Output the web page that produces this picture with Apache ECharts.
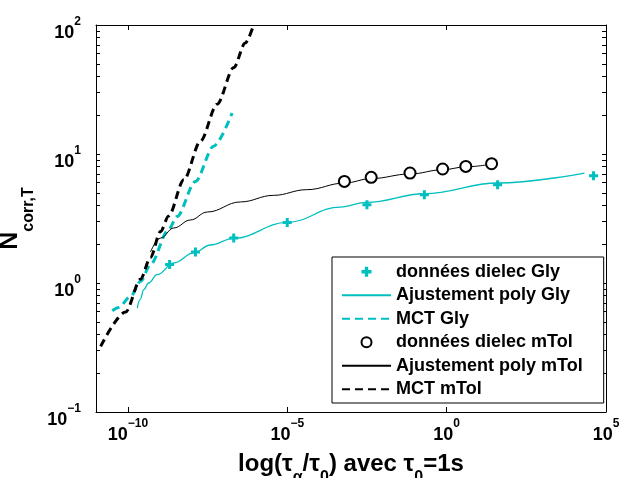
<!DOCTYPE html>
<html>
<head>
<meta charset="utf-8">
<script src="https://cdn.jsdelivr.net/npm/echarts@6/dist/echarts.min.js"></script>
<style>
  html, body { margin: 0; padding: 0; background: #fff; }
  #chart { width: 621px; height: 478px; }
</style>
</head>
<body>
<div id="chart"></div>
<script>
// ---------- data ----------
const xTickValues = [1e-10, 1e-5, 1, 1e5];
const yLabelValues = [0.1, 1, 10, 100];
const yMinorMultipliers = [1, 2, 3, 4, 5, 6, 7, 8, 9];

const glyDataX = [2.04e-9, 1.32e-8, 2.09e-7, 1.0e-5, 3.16e-3, 0.2, 39.8, 4.07e4];
const glyDataY = [1.39, 1.74, 2.23, 2.95, 4.05, 4.84, 5.78, 6.79];

const glyFitX = [1.97e-10, 2.41e-10, 3.17e-10, 4.45e-10, 8.3e-10, 2.75e-9, 1.16e-8, 3.88e-8, 2.08e-7, 9.8e-6, 4.6e-4, 3.1e-3, 0.2, 40, 2.1e4];
const glyFitY = [0.64, 0.743, 0.887, 1.0, 1.16, 1.43, 1.71, 1.97, 2.22, 2.95, 3.88, 4.22, 4.92, 5.96, 7.12];

const glyMctX = [3.25e-11, 5.1e-11, 1.22e-10, 2.5e-10, 5.1e-10, 1.88e-9, 3.5e-9, 1.32e-8, 4.9e-8, 1.86e-7];
const glyMctY = [0.61, 0.647, 0.787, 1.03, 1.39, 2.59, 3.28, 6.13, 11.5, 20.8];

const mtolDataX = [6.2e-4, 4.3e-3, 0.071, 0.75, 4.0, 25.7];
const mtolDataY = [6.13, 6.59, 7.12, 7.65, 8.01, 8.41];

const mtolFitX = [5.1e-10, 1.06e-9, 2.75e-9, 9.2e-9, 3.1e-8, 3.4e-7, 3.7e-6, 4.1e-5, 6.2e-4, 4.3e-3, 0.071, 0.75, 4.0, 25.7];
const mtolFitY = [1.74, 2.23, 2.67, 3.08, 3.55, 4.25, 4.78, 5.29, 5.95, 6.45, 7.0, 7.55, 7.95, 8.35];

const mtolMctX = [1.4e-11, 8.5e-11, 2.5e-10, 5.1e-10, 1.06e-9, 1.9e-9, 5.7e-9, 1.9e-8, 6.3e-8, 2.1e-7, 4.8e-7, 8.8e-7];
const mtolMctY = [0.323, 0.596, 1.07, 1.58, 2.51, 3.31, 6.31, 12.6, 24.3, 46.8, 72.4, 100];

const seriesNames = ['données dielec Gly', 'Ajustement poly Gly', 'MCT Gly',
                     'données dielec mTol', 'Ajustement poly mTol', 'MCT mTol'];

// ---------- helpers ----------
const zip = (xs, ys) => xs.map((x, i) => [x, ys[i]]);
const yTickValues = [];
yLabelValues.slice(0, 3).forEach(d => yMinorMultipliers.forEach(m => yTickValues.push(+(d * m).toPrecision(6))));
yTickValues.push(yLabelValues[3]);

const CYAN = '#00BFBF';
const FONT = 'Liberation Sans, Arial, sans-serif';
const plusPath = 'path://M3,0H6V3H9V6H6V9H3V6H0V3H3Z';

function powLabel(v) {
  const e = Math.round(Math.log10(v));
  const s = e < 0 ? '\u2212' + (-e) : String(e);
  return '{b|10}{s|' + s + '}';
}
const labelRich = {
  b: { fontSize: 18, fontWeight: 'bold', fontFamily: FONT, color: '#000', lineHeight: 18, padding: [8, 0, 3, 0], verticalAlign: 'top' },
  s: { fontSize: 12, fontWeight: 'bold', fontFamily: FONT, color: '#000', lineHeight: 12, verticalAlign: 'top' }
};

const chart = echarts.init(document.getElementById('chart'), null, { renderer: 'canvas' });

const axisLineStyle = { show: true, onZero: false, lineStyle: { color: '#000', width: 1 } };
const tickStyle = { color: '#000', width: 1 };

const option = {
  animation: false,
  backgroundColor: '#fff',
  grid: { left: 96, right: 15, top: 25, bottom: 66, containLabel: false, outerBoundsMode: 'none' },
  legend: {
    orient: 'vertical',
    left: 332, top: 257,
    padding: [3, 21, 2, 9],
    itemWidth: 49, itemHeight: 10, itemGap: 0,
    backgroundColor: '#fff', borderColor: '#000', borderWidth: 1,
    selectedMode: false,
    data: [
      { name: seriesNames[0] },
      { name: seriesNames[1], itemStyle: { opacity: 0 } },
      { name: seriesNames[2], itemStyle: { opacity: 0 } },
      { name: seriesNames[3] },
      { name: seriesNames[4], itemStyle: { opacity: 0 } },
      { name: seriesNames[5], itemStyle: { opacity: 0 } }
    ],
    textStyle: { fontSize: 18, fontWeight: 'bold', fontFamily: FONT, color: '#000', lineHeight: 23.5 }
  },
  xAxis: [
    {
      type: 'log', logBase: 10, min: 1e-11, max: 1e5, position: 'bottom',
      axisLine: axisLineStyle,
      splitLine: { show: false },
      axisTick: { show: true, inside: true, length: 5, customValues: xTickValues, lineStyle: tickStyle },
      axisLabel: { show: true, customValues: xTickValues, margin: 6, formatter: powLabel, rich: labelRich },
      name: '{a|log(τ}{s|α}{a|/τ}{s|0}{a|) avec τ}{s|0}{a|=1s}',
      nameLocation: 'middle', nameGap: 33,
      nameTextStyle: {
        rich: {
          a: { fontSize: 24, fontWeight: 'bold', fontFamily: FONT, color: '#000', lineHeight: 26, verticalAlign: 'top' },
          s: { fontSize: 16, fontWeight: 'bold', fontFamily: FONT, color: '#000', lineHeight: 16, padding: [18, 0, 0, 0], verticalAlign: 'top' }
        }
      }
    },
    {
      type: 'log', logBase: 10, min: 1e-11, max: 1e5, position: 'top',
      axisLine: axisLineStyle,
      splitLine: { show: false },
      axisTick: { show: true, inside: true, length: 5, customValues: xTickValues, lineStyle: tickStyle },
      axisLabel: { show: false }
    }
  ],
  yAxis: [
    {
      type: 'log', logBase: 10, min: 0.1, max: 100, position: 'left',
      axisLine: axisLineStyle,
      splitLine: { show: false },
      axisTick: { show: true, inside: true, length: 4, customValues: yTickValues, lineStyle: tickStyle },
      axisLabel: { show: true, customValues: yLabelValues, margin: 15, formatter: powLabel, rich: labelRich },
      name: '{a|N}{s|corr,T}',
      nameLocation: 'middle', nameGap: 34, nameRotate: 90,
      nameTextStyle: {
        rich: {
          a: { fontSize: 25, fontWeight: 'bold', fontFamily: FONT, color: '#000', lineHeight: 26, verticalAlign: 'top' },
          s: { fontSize: 16, fontWeight: 'bold', fontFamily: FONT, color: '#000', lineHeight: 16, padding: [23, 0, 0, 0], verticalAlign: 'top' }
        }
      }
    },
    {
      type: 'log', logBase: 10, min: 0.1, max: 100, position: 'right',
      axisLine: axisLineStyle,
      splitLine: { show: false },
      axisTick: { show: true, inside: true, length: 4, customValues: yTickValues, lineStyle: tickStyle },
      axisLabel: { show: false }
    }
  ],
  series: [
    {
      name: seriesNames[0], type: 'scatter', xAxisIndex: 0, yAxisIndex: 0, z: 5,
      symbol: plusPath, symbolSize: 9,
      itemStyle: { color: CYAN, opacity: 1 },
      data: zip(glyDataX, glyDataY)
    },
    {
      name: seriesNames[1], type: 'line', xAxisIndex: 0, yAxisIndex: 0, z: 3,
      symbol: 'none', smooth: 0.4, smoothMonotone: 'x',
      lineStyle: { color: CYAN, width: 1.3 }, itemStyle: { color: CYAN },
      data: zip(glyFitX, glyFitY)
    },
    {
      name: seriesNames[2], type: 'line', xAxisIndex: 0, yAxisIndex: 0, z: 3,
      symbol: 'none', smooth: 0.3, smoothMonotone: 'x',
      lineStyle: { color: CYAN, width: 3, type: [8, 5] }, itemStyle: { color: CYAN },
      data: zip(glyMctX, glyMctY)
    },
    {
      name: seriesNames[3], type: 'scatter', xAxisIndex: 0, yAxisIndex: 0, z: 5,
      symbol: 'emptyCircle', symbolSize: 11,
      itemStyle: { color: '#000', borderColor: '#000', borderWidth: 2.5, opacity: 1 },
      data: zip(mtolDataX, mtolDataY)
    },
    {
      name: seriesNames[4], type: 'line', xAxisIndex: 0, yAxisIndex: 0, z: 3,
      symbol: 'none', smooth: 0.4, smoothMonotone: 'x',
      lineStyle: { color: '#000', width: 1 }, itemStyle: { color: '#000' },
      data: zip(mtolFitX, mtolFitY)
    },
    {
      name: seriesNames[5], type: 'line', xAxisIndex: 0, yAxisIndex: 0, z: 3,
      symbol: 'none', smooth: 0.3, smoothMonotone: 'x',
      lineStyle: { color: '#000', width: 3, type: [8, 5] }, itemStyle: { color: '#000' },
      data: zip(mtolMctX, mtolMctY)
    }
  ]
};
chart.setOption(option);
</script>
</body>
</html>
